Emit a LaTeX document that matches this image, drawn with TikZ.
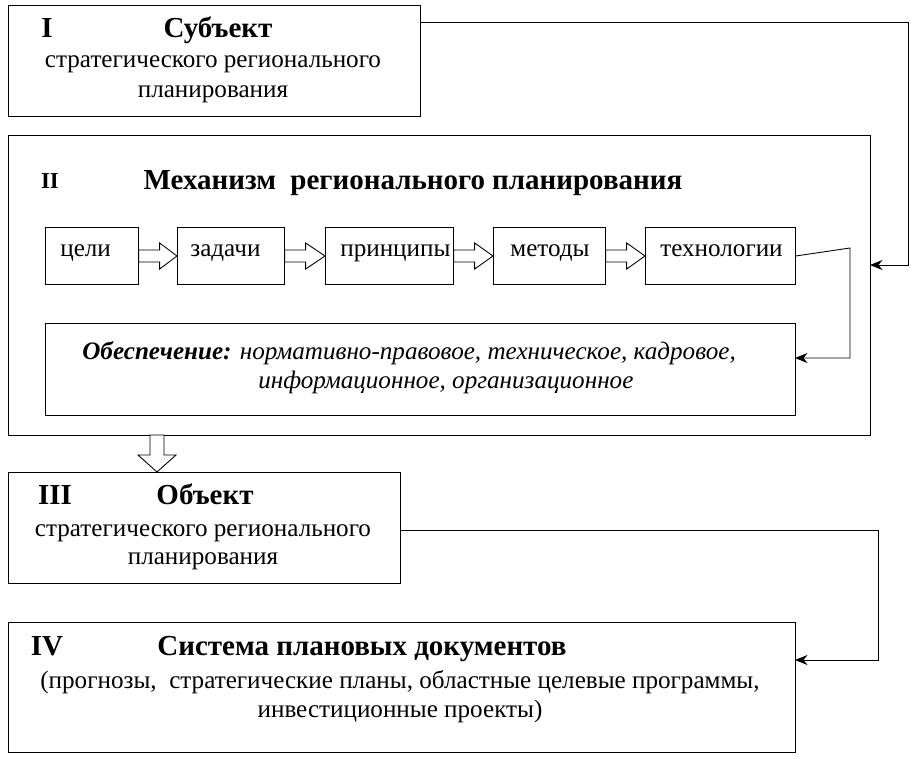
\documentclass[tikz,border=0pt]{standalone}
\usepackage{fontspec}
\setmainfont{Liberation Serif}
\usetikzlibrary{arrows.meta,calc}
\begin{document}
\begin{tikzpicture}[x=0.02cm,y=-0.02cm,font=\fontsize{14.3}{16}\selectfont]
	\tikzstyle{frame}=[draw=black, line width=0.5pt]
	\tikzstyle{step box}=[draw=black, minimum height=1.14cm, anchor=west]
	\tikzstyle{lbl}=[anchor=base west, inner sep=0pt]
	\tikzstyle{ttl}=[anchor=base, inner sep=0pt, font=\bfseries\fontsize{16.5}{18}\selectfont]
	\tikzstyle{txt}=[anchor=base, inner sep=0pt]
	\tikzstyle{link}=[line width=0.5pt, -{Stealth[length=2.5mm,width=2mm]}]
	\useasboundingbox (0,0) rectangle (913,758);
	% I
	\draw[frame] (8,5) rectangle (420,116);
	\node (subj) at (8,5) [minimum width=8.24cm, minimum height=2.22cm, anchor=north west] {};
	\node[ttl] at (47,37) {I};
	\node[ttl] at (218,37) {Субъект};
	\node[txt] at (213,67) {стратегического регионального};
	\node[txt] at (213,97) {планирования};
	% II
	\draw[frame] (8,135) rectangle (870,435);
	\node (mech) at (8,135) [minimum width=17.24cm, minimum height=6cm, anchor=north west] {};
	\node[ttl, font=\bfseries\fontsize{13}{15}\selectfont] at (50,188) {II};
	\node[ttl] at (413,189) {Механизм\ \ регионального планирования};
	\node (goal) at (45,256) [step box, minimum width=1.86cm] {};
	\node (task) at (177,256) [step box, minimum width=2.14cm] {};
	\node (princ) at (325,256) [step box, minimum width=2.56cm] {};
	\node (meth) at (493,256) [step box, minimum width=2.24cm] {};
	\node (tech) at (645,256) [step box, minimum width=3cm] {};
	\node[lbl] at (60,256) {цели};
	\node[lbl] at (190,256) {задачи};
	\node[lbl] at (340,256) {принципы};
	\node[lbl] at (510,256) {методы};
	\node[lbl] at (660,256) {технологии};
	\foreach \a/\b in {goal/task,task/princ,princ/meth,meth/tech}
		\draw[frame, fill=white] (\a.east) ++(0,-6) -- ++(21,0) -- ++(0,-7) -- ($(\b.west)+(0,0)$) -- ($(\a.east)+(21,13)$) -- ++(0,-7) -- ++(-21,0) -- cycle;
	\draw[frame] (45,323) rectangle (795,415);
	\node (supp) at (45,323) [minimum width=15cm, minimum height=1.84cm, anchor=north west] {};
	\node[lbl] at (82,359) {\textbf{\textit{Обеспечение:}} \textit{нормативно-правовое, техническое, кадровое,}};
	\node[lbl] at (258,388) {\textit{информационное, организационное}};
	% II -> III
	\draw[frame, fill=white] (150,435) -- (164,435) -- (164,455) -- (176,455) -- (157,472) -- (138,455) -- (150,455) -- cycle;
	% III
	\draw[frame] (8,472) rectangle (400,583);
	\node (obj) at (8,472) [minimum width=7.84cm, minimum height=2.22cm, anchor=north west] {};
	\node[ttl] at (55,504) {III};
	\node[ttl] at (205,504) {Объект};
	\node[txt] at (203,536) {стратегического регионального};
	\node[txt] at (203,564) {планирования};
	% IV
	\draw[frame] (8,622) rectangle (795,752);
	\node (docs) at (8,622) [minimum width=15.74cm, minimum height=2.6cm, anchor=north west] {};
	\node[ttl] at (47,655) {IV};
	\node[ttl] at (362,655) {Система плановых документов};
	\node[txt] at (400,688) {(прогнозы,\ \ стратегические планы, областные целевые программы,};
	\node[txt] at (400,717) {инвестиционные проекты)};
	% links
	\coordinate (inII) at (870,265);
	\coordinate (inSupp) at (795,358);
	\coordinate (inIV) at (795,660);
	\draw[link] (420,22) -- (908,22) -- (908,265) -- (inII);
	\draw[link] (tech.east) -- (850,248) -- (850,358) -- (inSupp);
	\draw[link] (400,530) -- (878,530) -- (878,660) -- (inIV);
\end{tikzpicture}
\end{document}
